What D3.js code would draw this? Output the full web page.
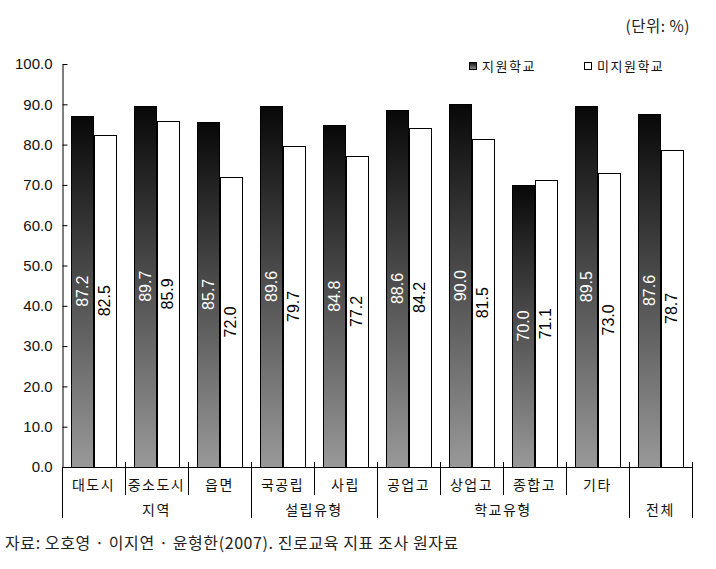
<!DOCTYPE html>
<html><head><meta charset="utf-8">
<script src="https://cdn.jsdelivr.net/npm/d3@7/dist/d3.min.js"></script>
<style>
html,body{margin:0;padding:0;background:#fff;}
svg{display:block;}
.num{font-family:"Liberation Sans",Arial,sans-serif;}
.kr{font-family:"Noto Sans CJK KR","Noto Sans",sans-serif;}
</style></head>
<body>
<svg id="chart" width="716" height="569"></svg>
<script>
const categories = ["대도시","중소도시","읍면","국공립","사립","공업고","상업고","종합고","기타","전체"];
const groupNames = ["지역","설립유형","학교유형","전체"];
const groupSizes = [3,2,4,1];
const seriesNames = ["지원학교","미지원학교"];
const supported   = [87.2,89.7,85.7,89.6,84.8,88.6,90.0,70.0,89.5,87.6];
const unsupported = [82.5,85.9,72.0,79.7,77.2,84.2,81.5,71.1,73.0,78.7];
const yTicks = [0,10,20,30,40,50,60,70,80,90,100];
const unitText = "(단위: %)";
const sourceText = "자료: 오호영 · 이지연 · 윤형한(2007). 진로교육 지표 조사 원자료";

const svg = d3.select("#chart");
const L = 62, R = 692, T = 64, B = 467;

const defs = svg.append("defs");
const grad = defs.append("linearGradient").attr("id","g1")
  .attr("x1",0).attr("y1",0).attr("x2",0).attr("y2",1);
grad.append("stop").attr("offset","0%").attr("stop-color","#080808");
grad.append("stop").attr("offset","100%").attr("stop-color","#999999");

const x = d3.scaleBand().domain(categories).range([L,R]).paddingInner(0).paddingOuter(0);
const xs = d3.scaleBand().domain(seriesNames).range([0,x.bandwidth()]).paddingInner(0).paddingOuter(0.43);
const y = d3.scaleLinear().domain([0,100]).range([B,T]);

// y axis
const yAxis = d3.axisLeft(y).tickValues(yTicks).tickFormat(d=>d.toFixed(1))
  .tickSizeInner(-5).tickSizeOuter(0).tickPadding(10);
const gy = svg.append("g").attr("transform",`translate(${L+0.5},0)`).call(yAxis);
gy.selectAll("text").attr("class","num").style("font-size","15px").attr("fill","#111");
gy.selectAll("line").attr("stroke","#000");
gy.select(".domain").attr("stroke","#000");

// bars
const rows = categories.map((c,i)=>({c, vals:[supported[i],unsupported[i]]}));
const gBars = svg.append("g");
rows.forEach(r=>{
  r.vals.forEach((v,j)=>{
    const bx = x(r.c)+xs(seriesNames[j]);
    const bw = xs.bandwidth();
    gBars.append("rect")
      .attr("x", Math.round(bx)+0.5).attr("y", Math.round(y(v))+0.5)
      .attr("width", Math.round(bw)).attr("height", Math.round(y(0))-Math.round(y(v)))
      .attr("fill", j===0 ? "url(#g1)" : "#fff")
      .attr("stroke","#000").attr("stroke-width",1);
    const cx = bx + bw/2, cy = (y(v)+y(0))/2;
    gBars.append("text").attr("class","num")
      .attr("transform",`translate(${cx+5.5},${cy}) rotate(-90)`)
      .attr("text-anchor","middle")
      .style("font-size","16px")
      .attr("fill", j===0 ? "#fff" : "#000")
      .text(v.toFixed(1));
  });
});

// x axis baseline
svg.append("line").attr("x1",L).attr("x2",R).attr("y1",B+0.5).attr("y2",B+0.5).attr("stroke","#000");

// separators
const groupEnds = [];
let acc = 0;
groupSizes.forEach(s=>{acc+=s; groupEnds.push(acc);});
const groupStarts = [0].concat(groupEnds.slice(0,-1));
for(let i=0;i<=categories.length;i++){
  const xx = i<categories.length ? x(categories[i]) : R;
  const isGroup = i===0 || groupEnds.includes(i);
  svg.append("line")
    .attr("x1",Math.round(xx)+0.5).attr("x2",Math.round(xx)+0.5)
    .attr("y1", i===0 ? B : B-5).attr("y2", isGroup ? 518 : 495)
    .attr("stroke", "#000");
}
// category labels (single-member groups show only the group label)
const singleCats = new Set();
groupSizes.forEach((s,i)=>{ if(s===1) singleCats.add(categories[groupStarts[i]]); });
svg.append("g").selectAll("text").data(categories.filter(d=>!singleCats.has(d))).join("text")
  .attr("class","kr")
  .attr("x", d=>x(d)+x.bandwidth()/2).attr("y",490)
  .attr("text-anchor","middle").style("font-size","14px").style("letter-spacing","1.5px")
  .attr("fill","#111").text(d=>d);
// group labels
svg.append("g").selectAll("text").data(groupNames).join("text")
  .attr("class","kr")
  .attr("x",(d,i)=>{const a=x(categories[groupStarts[i]]); const b=groupEnds[i]<categories.length?x(categories[groupEnds[i]]):R; return (a+b)/2;})
  .attr("y",515).attr("text-anchor","middle").style("font-size","14px").style("letter-spacing","1.5px")
  .attr("fill","#111").text(d=>d);

// legend
const legX = [469, 584];
seriesNames.forEach((s,j)=>{
  svg.append("rect").attr("x",legX[j]+0.5).attr("y",62.5).attr("width",7).attr("height",7)
    .attr("fill", j===0 ? "url(#g1)" : "#fff").attr("stroke","#000");
  svg.append("text").attr("class","kr").attr("x",legX[j]+13).attr("y",71)
    .style("font-size","13px").style("letter-spacing","1.5px").attr("fill","#111").text(s);
});

// unit
svg.append("text").attr("class","kr").attr("x",690).attr("y",32).attr("text-anchor","end")
  .style("font-size","15.5px").style("letter-spacing","0.5px").attr("fill","#222").text(unitText);

// source
svg.append("text").attr("class","kr").attr("x",5).attr("y",549)
  .style("font-size","16px").style("letter-spacing","0.6px").attr("fill","#222").text(sourceText);
</script>
</body></html>
